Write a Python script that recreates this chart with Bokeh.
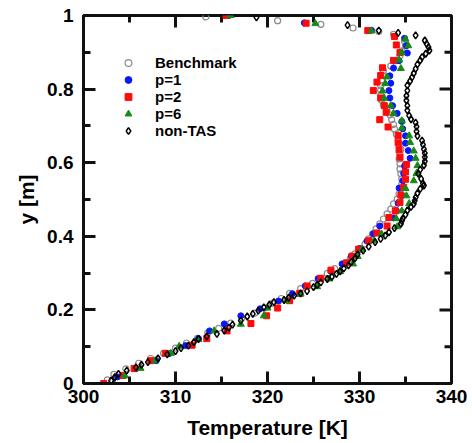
from bokeh.plotting import figure
from bokeh.models import (Range1d, FixedTicker, Legend, LegendItem,
                          CustomJSTickFormatter)
from bokeh.embed import file_html
from bokeh.resources import INLINE

# ---------------- data ----------------
bench_T = [302.6, 303.3, 304.6, 306.0, 307.3, 308.7, 310.0, 311.2, 312.4, 313.5,
           314.7, 316.0, 317.2, 318.6, 319.7, 320.5, 321.5, 322.4, 323.6, 324.9,
           325.8, 326.5, 327.3, 328.3, 329.0, 329.5, 330.2, 330.6, 331.0, 331.4,
           331.8, 332.2, 332.6, 333.0, 333.4, 333.7, 334.1, 334.3, 334.5, 334.6,
           334.6, 334.5, 334.4, 334.4, 334.3, 334.4, 334.5, 334.3, 334.2, 334.0,
           333.8, 333.7, 333.5, 333.3, 333.0, 332.6, 332.4, 332.3, 332.3, 332.3,
           332.4, 332.5, 332.6, 333.4, 333.9, 334.4, 334.6, 335.0, 334.9, 333.7,
           332.1, 329.3, 325.8, 321.1, 313.3]
bench_y = [0.010, 0.025, 0.040, 0.055, 0.068, 0.082, 0.096, 0.110, 0.123, 0.137,
           0.150, 0.164, 0.178, 0.191, 0.205, 0.218, 0.231, 0.245, 0.258, 0.272,
           0.285, 0.299, 0.312, 0.325, 0.339, 0.352, 0.366, 0.379, 0.393, 0.406,
           0.420, 0.434, 0.447, 0.461, 0.474, 0.488, 0.501, 0.515, 0.529, 0.542,
           0.556, 0.570, 0.583, 0.597, 0.610, 0.624, 0.637, 0.651, 0.664, 0.678,
           0.691, 0.704, 0.717, 0.730, 0.743, 0.757, 0.770, 0.784, 0.797, 0.810,
           0.823, 0.837, 0.850, 0.863, 0.877, 0.890, 0.904, 0.918, 0.930, 0.949,
           0.957, 0.966, 0.976, 0.986, 0.996]

p1_T = [303.7, 305.7, 307.9, 309.3, 311.1, 312.5, 313.7, 315.3, 317.1, 319.2,
        321.2, 322.7, 324.1, 325.5, 326.9, 328.1, 329.1, 330.0, 330.8, 331.5,
        332.2, 333.7, 334.0, 334.2, 334.6, 334.3, 334.7, 334.8, 334.9, 335.5,
        335.3, 335.0, 335.0, 334.7, 334.6, 334.1, 333.6, 333.3, 333.2, 333.4,
        333.3, 333.7, 334.3, 335.2, 335.1, 334.9, 331.3, 324.0, 315.8]
p1_y = [0.018, 0.040, 0.062, 0.081, 0.103, 0.122, 0.143, 0.162, 0.184, 0.203,
        0.224, 0.244, 0.265, 0.285, 0.305, 0.325, 0.346, 0.367, 0.387, 0.407,
        0.428, 0.450, 0.470, 0.490, 0.511, 0.531, 0.551, 0.571, 0.591, 0.612,
        0.633, 0.653, 0.673, 0.692, 0.712, 0.734, 0.755, 0.776, 0.796, 0.816,
        0.836, 0.857, 0.877, 0.898, 0.918, 0.938, 0.960, 0.980, 1.000]

p2_T = [302.2, 304.3, 305.5, 307.3, 308.9, 311.8, 313.4, 315.6, 318.2, 319.9,
        321.1, 322.4, 323.5, 324.3, 325.8, 326.9, 328.6, 329.2, 329.9, 331.0,
        331.9, 333.0, 333.2, 333.9, 334.4, 334.5, 334.8, 335.0, 335.0, 335.1,
        334.4, 334.3, 334.2, 334.2, 333.1, 332.2, 332.9, 332.7, 332.3, 331.5,
        331.9, 332.3, 332.5, 333.7, 334.4, 334.0, 333.8, 330.9, 324.2, 315.5]
p2_y = [0.000, 0.022, 0.041, 0.062, 0.082, 0.104, 0.122, 0.143, 0.163, 0.184,
        0.205, 0.225, 0.245, 0.265, 0.286, 0.308, 0.328, 0.346, 0.365, 0.388,
        0.409, 0.428, 0.451, 0.469, 0.492, 0.512, 0.533, 0.555, 0.575, 0.595,
        0.615, 0.635, 0.654, 0.674, 0.697, 0.717, 0.737, 0.755, 0.776, 0.796,
        0.819, 0.837, 0.858, 0.878, 0.899, 0.920, 0.943, 0.959, 0.979, 1.000]

p6_T = [303.3, 304.5, 306.2, 307.8, 309.5, 310.4, 312.5, 314.2, 317.1, 319.6,
        320.0, 322.1, 323.6, 325.4, 326.7, 327.9, 329.3, 329.8, 330.3, 331.6,
        332.4, 334.1, 334.0, 334.6, 335.4, 335.1, 335.0, 335.9, 336.2, 336.3,
        336.1, 335.9, 335.5, 335.4, 334.6, 334.6, 333.7, 333.4, 332.7, 332.5,
        332.8, 333.0, 334.5, 334.3, 334.6, 335.3, 335.0, 331.3, 325.2, 316.0]
p6_y = [0.000, 0.021, 0.041, 0.062, 0.082, 0.101, 0.120, 0.143, 0.161, 0.184,
        0.205, 0.225, 0.243, 0.263, 0.284, 0.304, 0.325, 0.345, 0.365, 0.388,
        0.406, 0.426, 0.448, 0.469, 0.489, 0.510, 0.530, 0.551, 0.571, 0.592,
        0.612, 0.632, 0.655, 0.673, 0.694, 0.714, 0.734, 0.755, 0.775, 0.795,
        0.815, 0.833, 0.856, 0.879, 0.899, 0.918, 0.936, 0.958, 0.978, 1.000]

ntas_T = [303.0, 303.4, 303.8, 304.7, 305.7, 306.3, 307.0, 308.1, 309.1, 310.0,
          310.6, 311.4, 312.0, 312.5, 313.4, 314.5, 315.3, 315.8, 316.2, 317.1,
          317.8, 318.4, 319.0, 319.6, 320.2, 320.7, 321.8, 322.3, 322.9, 323.6,
          324.3, 325.0, 325.4, 325.8, 326.5, 327.0, 327.5, 327.9, 328.3, 328.8,
          329.1, 329.5, 329.8, 330.4, 331.0, 331.7, 332.3, 332.8, 333.2, 333.8,
          334.5, 334.6, 334.7, 335.0, 335.2, 335.6, 335.9, 336.0, 336.1, 336.3,
          336.6, 337.0, 336.9, 336.7, 336.4, 336.6, 337.0, 337.1, 337.1, 337.1,
          337.0, 336.9, 336.8, 336.3, 336.2, 336.2, 336.1, 335.6, 335.4, 335.2,
          335.2, 335.1, 335.1, 335.2, 335.2, 335.5, 335.7, 335.9, 336.1, 336.3,
          336.6, 336.8, 337.2, 337.6, 337.5, 337.3, 337.1, 336.1, 334.2, 332.1,
          328.7, 318.8]
ntas_y = [0.008, 0.017, 0.026, 0.035, 0.044, 0.051, 0.058, 0.068, 0.079, 0.088,
          0.096, 0.103, 0.112, 0.121, 0.128, 0.135, 0.144, 0.152, 0.160, 0.171,
          0.182, 0.189, 0.198, 0.207, 0.214, 0.221, 0.227, 0.233, 0.239, 0.245,
          0.251, 0.262, 0.268, 0.275, 0.284, 0.290, 0.298, 0.305, 0.313, 0.321,
          0.330, 0.340, 0.351, 0.361, 0.372, 0.384, 0.393, 0.402, 0.411, 0.422,
          0.434, 0.442, 0.448, 0.459, 0.470, 0.480, 0.488, 0.497, 0.506, 0.517,
          0.529, 0.538, 0.543, 0.556, 0.570, 0.581, 0.593, 0.604, 0.615, 0.626,
          0.637, 0.649, 0.660, 0.673, 0.685, 0.698, 0.709, 0.718, 0.728, 0.742,
          0.755, 0.769, 0.782, 0.796, 0.810, 0.822, 0.832, 0.843, 0.855, 0.867,
          0.878, 0.887, 0.896, 0.905, 0.914, 0.923, 0.932, 0.946, 0.953, 0.959,
          0.974, 0.995]

x_ticks = [300, 310, 320, 330, 340]
x_minor = [305, 315, 325, 335]
y_ticks = [0, 0.2, 0.4, 0.6, 0.8, 1.0]
y_minor = [0.1, 0.3, 0.5, 0.7, 0.9]

FONT = "Liberation Sans"
INK = "#111111"
MAJ, MIN, TW = 12, 7, 3
FRAME_W, FRAME_H = 368, 368
BORDER_L, BORDER_R, BORDER_T, BORDER_B = 83, 21, 15, 60

# ---------------- figure ----------------
x0, x1 = x_ticks[0], x_ticks[-1]
y0, y1 = y_ticks[0], y_ticks[-1]
p = figure(width=BORDER_L + FRAME_W + BORDER_R,
           height=BORDER_T + FRAME_H + BORDER_B,
           output_backend="svg", toolbar_location=None,
           x_range=Range1d(x0, x1), y_range=Range1d(y0, y1),
           min_border_left=BORDER_L, min_border_right=BORDER_R,
           min_border_top=BORDER_T, min_border_bottom=BORDER_B)
p.grid.visible = False
p.outline_line_color = INK
p.outline_line_width = TW

xt = FixedTicker(ticks=x_ticks, minor_ticks=x_minor)
yt = FixedTicker(ticks=y_ticks, minor_ticks=y_minor)
yfmt = CustomJSTickFormatter(code="return String(Math.round(tick*10)/10);")

for ax in (p.xaxis[0], p.yaxis[0]):
    ax.axis_line_width = TW
    ax.axis_line_color = INK
    ax.major_tick_in = MAJ
    ax.major_tick_out = 0
    ax.minor_tick_in = MIN
    ax.minor_tick_out = 0
    ax.major_tick_line_width = TW
    ax.minor_tick_line_width = TW
    ax.major_tick_line_color = INK
    ax.minor_tick_line_color = INK
    ax.major_label_text_font = FONT
    ax.major_label_text_font_style = "bold"
    ax.major_label_text_color = "black"
    ax.major_label_text_font_size = "19px"
    ax.axis_label_text_font = FONT
    ax.axis_label_text_font_style = "bold"
    ax.axis_label_text_color = "black"
    ax.axis_label_text_font_size = "21px"

xb = p.xaxis[0]
xb.ticker = xt
xb.axis_label = "Temperature [K]"
xb.major_label_standoff = 6
xb.axis_label_standoff = 10

yl = p.yaxis[0]
yl.ticker = yt
yl.formatter = yfmt
yl.axis_label = "y [m]"
yl.major_label_standoff = 10
yl.axis_label_standoff = 6
yl.major_label_orientation = "horizontal"

# mirrored inward ticks on the top and right frame edges (pixel lengths -> data units)
dy_px = (y1 - y0) / FRAME_H
dx_px = (x1 - x0) / FRAME_W
p.segment(x0=x_ticks, y0=[y1] * len(x_ticks), x1=x_ticks,
          y1=[y1 - MAJ * dy_px] * len(x_ticks), line_color=INK, line_width=TW)
p.segment(x0=x_minor, y0=[y1] * len(x_minor), x1=x_minor,
          y1=[y1 - MIN * dy_px] * len(x_minor), line_color=INK, line_width=TW)
p.segment(x0=[x1] * len(y_ticks), y0=y_ticks, x1=[x1 - MAJ * dx_px] * len(y_ticks),
          y1=y_ticks, line_color=INK, line_width=TW)
p.segment(x0=[x1] * len(y_minor), y0=y_minor, x1=[x1 - MIN * dx_px] * len(y_minor),
          y1=y_minor, line_color=INK, line_width=TW)

# ---------------- series ----------------
r_bench = p.scatter(bench_T, bench_y, marker="circle", size=6, fill_color=None,
                    line_color="#8c8c8c", line_width=1.2)
r_p1 = p.scatter(p1_T, p1_y, marker="circle", size=6, fill_color="#0a14ff",
                 line_color="#0a14ff")
r_p2 = p.scatter(p2_T, p2_y, marker="square", size=6, fill_color="#ff0a0a",
                 line_color="#ff0a0a")
r_p6 = p.scatter(p6_T, p6_y, marker="triangle", size=7, fill_color="#168a16",
                 line_color="#168a16")
r_nt = p.scatter(ntas_T, ntas_y, marker="diamond", size=7, fill_color=None,
                 line_color="black", line_width=1.5)

legend = Legend(items=[LegendItem(label="Benchmark", renderers=[r_bench]),
                       LegendItem(label="p=1", renderers=[r_p1]),
                       LegendItem(label="p=2", renderers=[r_p2]),
                       LegendItem(label="p=6", renderers=[r_p6]),
                       LegendItem(label="non-TAS", renderers=[r_nt])],
                location=(34, 244), orientation="vertical",
                glyph_width=22, glyph_height=17, spacing=0, label_height=17,
                label_standoff=16, padding=0, margin=0,
                border_line_color=None, background_fill_alpha=0,
                label_text_font=FONT, label_text_font_style="bold",
                label_text_font_size="15px", label_text_color="black")
p.add_layout(legend)

open("out.html", "w").write(file_html(p, INLINE))
